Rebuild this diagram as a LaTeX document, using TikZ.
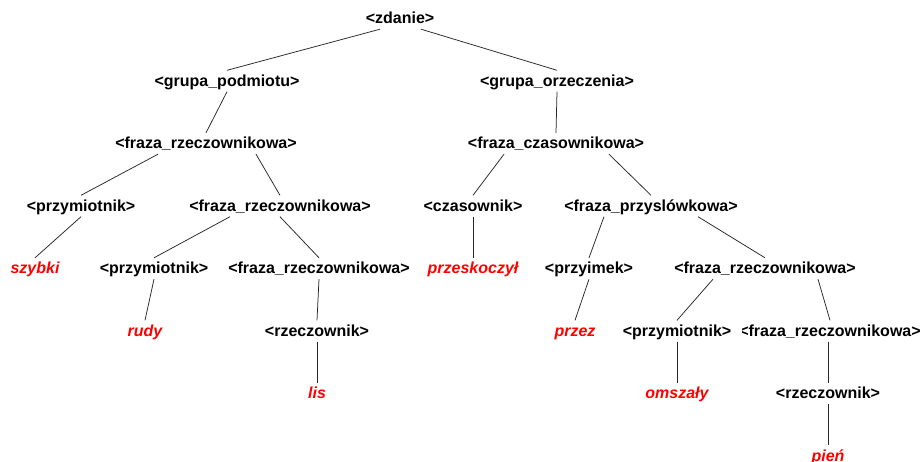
\documentclass[tikz,border=0pt]{standalone}
\usepackage{fontspec}
\setmainfont{Liberation Sans}
\begin{document}
\begin{tikzpicture}[x=1pt,y=-1pt,
  nt/.style={font=\fontsize{16}{19}\selectfont\bfseries, anchor=base, inner xsep=0pt, inner ysep=2pt, text height=13.5pt, text depth=3.5pt},
  lf/.style={nt, text=red, font=\fontsize{16}{19}\selectfont\bfseries\itshape},
  edge/.style={draw=black!85, line width=0.75pt}]
\useasboundingbox (0,0) rectangle (921,461);
\node[nt] (z) at (400,23.5) {<zdanie>};
\node[nt] (gp) at (227,86) {<grupa\_podmiotu>};
\node[nt] (go) at (557,86) {<grupa\_orzeczenia>};
\node[nt] (f2) at (206,148.5) {<fraza\_rzeczownikowa>};
\node[nt] (fcz) at (556,148.5) {<fraza\_czasownikowa>};
\node[nt] (pm3) at (81,211) {<przymiotnik>};
\node[nt] (f3) at (280,211) {<fraza\_rzeczownikowa>};
\node[nt] (cz) at (473,211) {<czasownik>};
\node[nt] (fp) at (651,211) {<fraza\_przyslówkowa>};
\node[lf] (sz) at (35,273.5) {szybki};
\node[nt] (pm4) at (154,273.5) {<przymiotnik>};
\node[nt] (f4) at (319,273.5) {<fraza\_rzeczownikowa>};
\node[lf] (prz) at (473,273.5) {przeskoczył};
\node[nt] (pi) at (589,273.5) {<przyimek>};
\node[nt] (fr4) at (765,273.5) {<fraza\_rzeczownikowa>};
\node[lf] (ru) at (145,336) {rudy};
\node[nt] (rz5) at (317,336) {<rzeczownik>};
\node[lf] (pe) at (575,336) {przez};
\node[nt] (fr5) at (830,336) {<fraza\_rzeczownikowa>};
\node[nt, fill=white, inner xsep=11pt] (pm5) at (677,336) {<przymiotnik>};
\node[lf] (li) at (317,398.5) {lis};
\node[lf] (om) at (677,398.5) {omszały};
\node[nt] (rz6) at (828,398.5) {<rzeczownik>};
\node[lf] (pn) at (828,461) {pień};

\draw[edge] ([xshift=-20pt]z.south) -- (gp.north);
\draw[edge] ([xshift=21pt]z.south) -- (go.north);
\draw[edge] (gp.south) -- (f2.north);
\draw[edge] (go.south) -- (fcz.north);
\draw[edge] ([xshift=-48pt]f2.south) -- (pm3.north);
\draw[edge] ([xshift=50pt]f2.south) -- (f3.north);
\draw[edge] ([xshift=-52pt]fcz.south) -- (cz.north);
\draw[edge] ([xshift=53pt]fcz.south) -- (fp.north);
\draw[edge] (pm3.south) -- (sz.north);
\draw[edge] ([xshift=-50pt]f3.south) -- (pm4.north);
\draw[edge] (f3.south) -- (f4.north);
\draw[edge] (cz.south) -- (prz.north);
\draw[edge] ([xshift=-47pt]fp.south) -- (pi.north);
\draw[edge] ([xshift=47pt]fp.south) -- (fr4.north);
\draw[edge] (pm4.south) -- (ru.north);
\draw[edge] (f4.south) -- (rz5.north);
\draw[edge] (pi.south) -- (pe.north);
\draw[edge] ([xshift=-52pt]fr4.south) -- (pm5.north);
\draw[edge] ([xshift=53pt]fr4.south) -- (fr5.north);
\draw[edge] (rz5.south) -- (li.north);
\draw[edge] (pm5.south) -- (om.north);
\draw[edge] ([xshift=-2pt]fr5.south) -- (rz6.north);
\draw[edge] (rz6.south) -- (pn.north);
\end{tikzpicture}
\end{document}
